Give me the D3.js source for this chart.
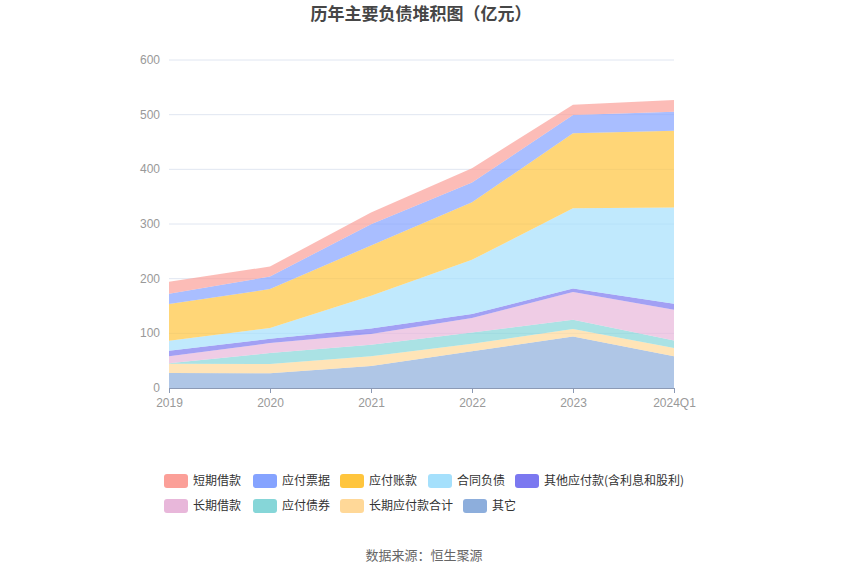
<!DOCTYPE html>
<html><head><meta charset="utf-8">
<script src="https://cdn.jsdelivr.net/npm/d3@7"></script>
<style>body{margin:0;background:#fff;font-family:"Noto Sans CJK SC","Noto Sans",sans-serif;}</style>
</head><body><svg id="c" width="850" height="575"></svg>
<script>
const categories = ["2019","2020","2021","2022","2023","2024Q1"];
const seriesNames = ["短期借款","应付票据","应付账款","合同负债","其他应付款(含利息和股利)","长期借款","应付债券","长期应付款合计","其它"];
const s_qita      = [27.4, 26.8, 40.2, 67.0, 94.4, 57.9];
const s_changqiyf = [17.1, 17.0, 17.7, 14.0, 13.4, 15.2];
const s_yfzq      = [1.0, 20.1, 21.3, 20.7, 17.0, 14.0];
const s_cqjk      = [12.4, 18.3, 19.5, 26.2, 50.6, 56.0];
const s_qtyf      = [10.3, 7.9, 10.3, 7.3, 6.7, 11.0];
const s_htfz      = [18.3, 19.5, 59.7, 99.3, 146.8, 176.0];
const s_yfzk      = [67.0, 71.3, 92.0, 105.3, 137.0, 140.7];
const s_yfpj      = [18.8, 23.1, 38.9, 36.0, 33.5, 34.7];
const s_dqjk      = [22.0, 18.3, 21.4, 26.2, 18.9, 21.3];
const yTicks = [0,100,200,300,400,500,600];

const colors = {"短期借款":"#fb9f98","应付票据":"#85a3ff","应付账款":"#ffc53d","合同负债":"#a5e0fc","其他应付款(含利息和股利)":"#7b78f0","长期借款":"#e8b7da","应付债券":"#86d6d8","长期应付款合计":"#ffd898","其它":"#8daedc"};
const valuesBy = {"短期借款":s_dqjk,"应付票据":s_yfpj,"应付账款":s_yfzk,"合同负债":s_htfz,"其他应付款(含利息和股利)":s_qtyf,"长期借款":s_cqjk,"应付债券":s_yfzq,"长期应付款合计":s_changqiyf,"其它":s_qita};
const stackOrder = ["其它","长期应付款合计","应付债券","长期借款","其他应付款(含利息和股利)","合同负债","应付账款","应付票据","短期借款"];

const rows = categories.map((c,i)=>{const o={cat:c}; seriesNames.forEach(n=>o[n]=valuesBy[n][i]); return o;});
const stacked = d3.stack().keys(stackOrder)(rows);

const svg = d3.select("#c");
const x = d3.scalePoint().domain(categories).range([169,674]);
const y = d3.scaleLinear().domain([0,600]).range([388,60]);
const numFont = "\"Liberation Sans\",Arial,sans-serif";

// grid
svg.append("g").selectAll("line").data(yTicks.filter(t=>t>0)).join("line")
  .attr("x1",169).attr("x2",674).attr("y1",d=>y(d)).attr("y2",d=>y(d))
  .attr("stroke","#e0e6f1").attr("stroke-width",1);

const area = d3.area().x((d,i)=>x(categories[i])).y0(d=>y(d[0])).y1(d=>y(d[1]));
svg.append("g").selectAll("path").data(stacked).join("path")
  .attr("d",area).attr("fill",d=>colors[d.key]).attr("fill-opacity",0.7);

// y axis labels
svg.append("g").selectAll("text").data(yTicks).join("text")
  .attr("x",160).attr("y",d=>y(d)).attr("dy","0.32em").attr("text-anchor","end")
  .attr("font-size",12).attr("font-family",numFont).attr("fill","#999").text(d=>d);

// x axis
const xAxis = svg.append("g").attr("transform","translate(0,388)")
  .call(d3.axisBottom(x).tickSize(5).tickPadding(5));
xAxis.select(".domain").attr("stroke","#8c9ab5");
xAxis.selectAll(".tick line").attr("stroke","#8c9ab5");
xAxis.selectAll(".tick text").attr("fill","#999").attr("font-size",12)
  .attr("font-family",numFont);

// title
svg.append("text").attr("x",421).attr("y",20).attr("text-anchor","middle")
  .attr("font-size",17).attr("font-weight","bold").attr("fill","#464646").text("历年主要负债堆积图（亿元）");

// legend
const legendPos = [[164,481],[253,481],[340,481],[428,481],[515,481],[164,506],[253,506],[340,506],[463,506]];
const lg = svg.append("g");
seriesNames.forEach((n,i)=>{
  const [lx,ly]=legendPos[i];
  lg.append("rect").attr("x",lx).attr("y",ly-7).attr("width",24).attr("height",14).attr("rx",3)
    .attr("fill",colors[n]);
  lg.append("text").attr("x",lx+29).attr("y",ly).attr("dy","0.35em").attr("font-size",12)
    .attr("fill","#333").text(n);
});

svg.append("text").attr("x",424).attr("y",555).attr("dy","0.35em").attr("text-anchor","middle")
  .attr("font-size",13).attr("fill","#666").text("数据来源：恒生聚源");
</script></body></html>
